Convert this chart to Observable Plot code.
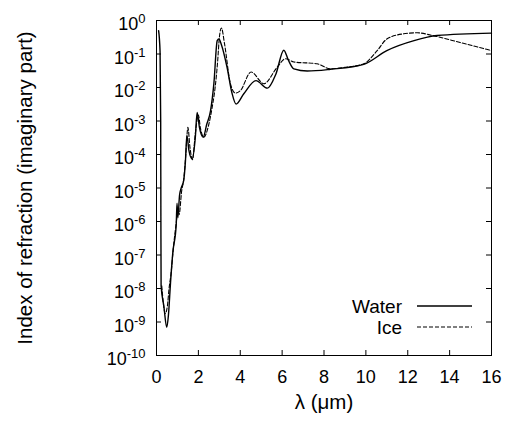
<!DOCTYPE html>
<html>
<head>
<meta charset="utf-8">
<script src="https://cdn.jsdelivr.net/npm/d3@7"></script>
<script src="https://cdn.jsdelivr.net/npm/@observablehq/plot@0.6"></script>
<style>
  html, body { margin: 0; padding: 0; background: #fff; }
  svg { display: block; }
</style>
</head>
<body>
<div id="chart"></div>
<script>
// Imaginary part of the refractive index of liquid water and ice
const waterLambda = [0.1, 0.17, 0.2, 0.21, 0.22, 0.35, 0.49, 0.57, 0.67, 0.78, 0.94, 0.98, 1.02, 1.1, 1.18, 1.3, 1.38, 1.45, 1.55, 1.7, 1.85, 1.94, 2.05, 2.23, 2.4, 2.58, 2.74, 2.9, 2.98, 3.1, 3.37, 3.6, 3.8, 4.17, 4.75, 5.3, 5.7, 6.08, 6.3, 6.56, 7.2, 8.31, 9.9, 11.0, 12.3, 13.4, 16];
const waterK = [0.5, 0.12, 1e-3, 1e-6, 1.2e-8, 3e-9, 7e-10, 1.6e-9, 1.5e-8, 1.2e-7, 7.6e-7, 3.5e-6, 1.3e-6, 6e-6, 1e-5, 1.7e-5, 6e-5, 3.7e-4, 1.3e-4, 7.4e-5, 3e-4, 1.8e-3, 6.5e-4, 3.3e-4, 8e-4, 2e-3, 1.3e-2, 0.25, 0.28, 0.19, 0.04, 7e-3, 3.2e-3, 6.5e-3, 1.6e-2, 9.6e-3, 2.5e-2, 0.13, 0.065, 0.036, 0.031, 0.035, 0.049, 0.126, 0.25, 0.355, 0.42];

const iceLambda = [0.25, 0.42, 0.52, 0.6, 0.7, 0.8, 0.95, 1.03, 1.08, 1.2, 1.3, 1.4, 1.5, 1.6, 1.72, 1.85, 2.0, 2.1, 2.26, 2.5, 2.66, 2.8, 2.92, 3.0, 3.1, 3.25, 3.53, 3.77, 4.0, 4.52, 5.13, 5.76, 6.16, 6.56, 7.67, 8.31, 9.0, 9.9, 10.54, 11.0, 11.8, 12.45, 13.2, 14.5, 16];
const iceK = [1.2e-8, 1.8e-9, 3e-9, 1e-8, 3e-8, 1.5e-7, 1e-6, 2.5e-6, 1.6e-6, 8e-6, 1.8e-5, 1e-4, 6.5e-4, 1.6e-4, 7e-5, 4e-4, 1.5e-3, 6e-4, 3.3e-4, 8e-4, 2.6e-3, 1e-2, 6e-2, 0.3, 0.6, 0.2, 1.3e-2, 6.8e-3, 8e-3, 2.9e-2, 1.3e-2, 4e-2, 7.2e-2, 5.8e-2, 5.1e-2, 3.6e-2, 4e-2, 5.1e-2, 0.126, 0.28, 0.4, 0.43, 0.355, 0.22, 0.126];

const xTicks = [0, 2, 4, 6, 8, 10, 12, 14, 16];
const yTicks = [1, 1e-1, 1e-2, 1e-3, 1e-4, 1e-5, 1e-6, 1e-7, 1e-8, 1e-9, 1e-10];
const yTickExponents = ["0", "-1", "-2", "-3", "-4", "-5", "-6", "-7", "-8", "-9", "-10"];

const seriesNames = ["Water", "Ice"];
const xLabel = "λ (μm)";
const yLabel = "Index of refraction (imaginary part)";

const water = waterLambda.map((l, i) => ({lambda: l, k: waterK[i]}));
const ice = iceLambda.map((l, i) => ({lambda: l, k: iceK[i]}));

const W = 506, H = 421;
const mL = 156, mR = 15, mT = 20, mB = 66;
const plotW = W - mL - mR, plotH = H - mT - mB;
const tick = 5;
const font = "'Liberation Sans', Arial, Helvetica, sans-serif";

const svg = Plot.plot({
  width: W,
  height: H,
  marginLeft: mL,
  marginRight: mR,
  marginTop: mT,
  marginBottom: mB,
  style: {fontFamily: font, fontSize: "18px", color: "#000", background: "#fff", overflow: "visible"},
  x: {domain: [0, 16]},
  y: {type: "log", domain: [1e-10, 1]},
  marks: [
    // inward tick marks on all four sides
    Plot.ruleX(xTicks, {x: d => d, insetTop: plotH - tick, stroke: "#000", strokeWidth: 1}),
    Plot.ruleX(xTicks, {x: d => d, insetBottom: plotH - tick, stroke: "#000", strokeWidth: 1}),
    Plot.ruleY(yTicks, {y: d => d, insetRight: plotW - tick, stroke: "#000", strokeWidth: 1}),
    Plot.ruleY(yTicks, {y: d => d, insetLeft: plotW - tick, stroke: "#000", strokeWidth: 1}),
    Plot.axisX({ticks: xTicks, tickSize: 0, tickPadding: 15, tickFormat: d => String(d), label: null, fontSize: 18}),
    Plot.axisY({ticks: yTicks, tickSize: 0, tickPadding: 11, dy: 4, tickFormat: d => yTickExponents[yTicks.indexOf(d)], label: null, fontSize: 18}),
    Plot.line(ice, {x: "lambda", y: "k", stroke: "#000", strokeWidth: 1.1, strokeDasharray: "4,2", curve: "monotone-x"}),
    Plot.line(water, {x: "lambda", y: "k", stroke: "#000", strokeWidth: 1.4, curve: "monotone-x"}),
    Plot.frame({stroke: "#000", strokeWidth: 1}),
    Plot.text([xLabel], {frameAnchor: "bottom", dy: 53, text: d => d, fontSize: 20.5, fill: "#000"}),
    Plot.text([yLabel], {frameAnchor: "left", textAnchor: "middle", dx: -131, rotate: -90, text: d => d, fontSize: 20.5, fill: "#000"})
  ]
});

// y tick labels as powers of ten with superscript exponents
d3.select(svg).selectAll('g[aria-label="y-axis tick label"] text').each(function() {
  const t = d3.select(this);
  const exp = t.text();
  t.text("10");
  t.append("tspan").attr("dy", "-0.55em").attr("font-size", 13).text(exp);
});

// key in the lower right corner of the frame
const right = W - mR, bottom = H - mB;
const key = d3.select(svg).append("g").attr("font-family", font).attr("font-size", 19);
const styles = [{dash: null, width: 1.4}, {dash: "4,2", width: 1.1}];
seriesNames.forEach((name, i) => {
  const yc = bottom - 49 + i * 21;
  key.append("text").attr("x", right - 89).attr("y", yc).attr("dy", "0.36em")
    .attr("text-anchor", "end").attr("fill", "#000").text(name);
  key.append("line").attr("x1", right - 74).attr("x2", right - 19)
    .attr("y1", yc).attr("y2", yc).attr("stroke", "#000")
    .attr("stroke-width", styles[i].width)
    .attr("stroke-dasharray", styles[i].dash);
});

document.getElementById("chart").appendChild(svg);
</script>
</body>
</html>
